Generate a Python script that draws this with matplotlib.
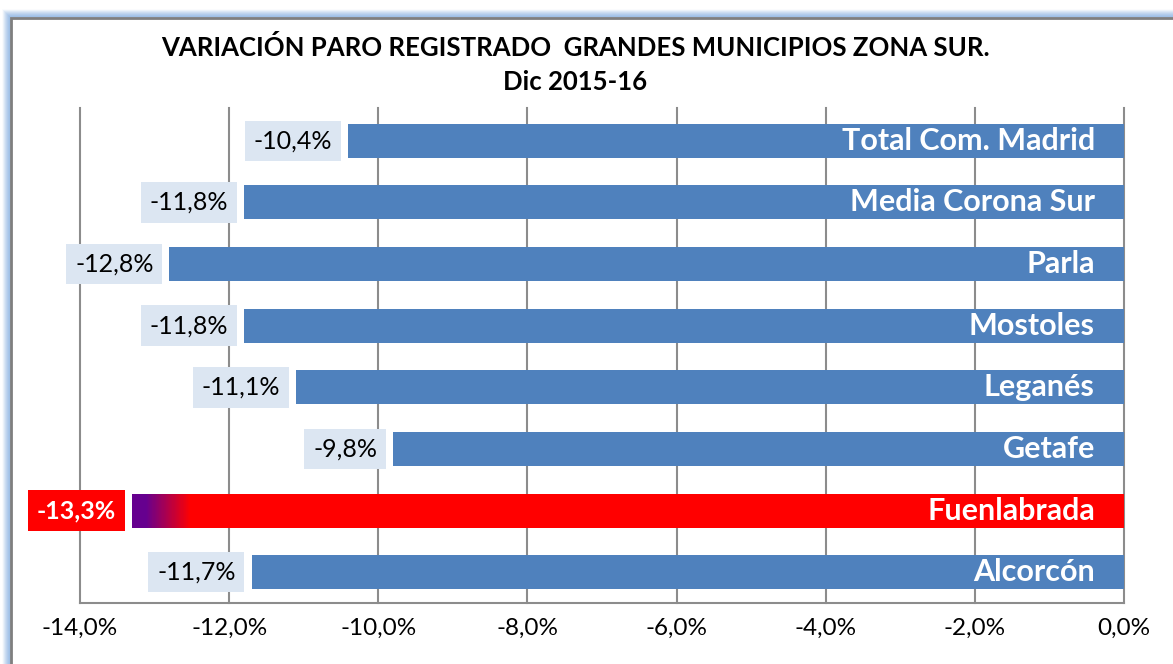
import numpy as np
import matplotlib
matplotlib.use('Agg')
import matplotlib.pyplot as plt
from matplotlib.patches import Rectangle
from matplotlib.colors import LinearSegmentedColormap

plt.rcParams['font.family'] = ['Lato', 'DejaVu Sans']

# datos, de arriba a abajo
municipios = ["Total Com. Madrid", "Media Corona Sur", "Parla", "Mostoles",
              "Leganés", "Getafe", "Fuenlabrada", "Alcorcón"]
variacion = [-10.4, -11.8, -12.8, -11.8, -11.1, -9.8, -13.3, -11.7]
destacado = "Fuenlabrada"
ticks = [-14, -12, -10, -8, -6, -4, -2, 0]

AZUL = '#4F81BD'
ROJO = '#FF0000'
MORADO = '#66008F'
CAJA = '#DCE6F2'
GRIS = '#8C8C8C'

def pct(v):
    return f"{v:.1f}%".replace('.', ',')

fig = plt.figure(figsize=(11.73, 6.64), dpi=100)
W, H = 1173, 664

# marco con halo azul
for i, a in enumerate(np.linspace(0.75, 0.05, 8)):
    off = i + 1
    fig.patches.append(Rectangle(((11 - off) / W, 1 - (18 - off) / H - 2),
                                 2, 2, transform=fig.transFigure,
                                 fill=False, ec='#8DB4E2', lw=1.2, alpha=a))
fig.patches.append(Rectangle((11 / W, 1 - 18 / H - 2), 2, 2,
                             transform=fig.transFigure, fill=False,
                             ec='#7F7F7F', lw=2))

ax = fig.add_axes([80 / W, 1 - 603 / H, (1124 - 80) / W, (603 - 110) / H])

y = np.arange(len(municipios))
h = 0.55
colores = [ROJO if m == destacado else AZUL for m in municipios]
ax.barh(y, variacion, height=h, color=colores, zorder=3)

# degradado morado -> rojo en el extremo de la barra destacada
k = municipios.index(destacado)
v = variacion[k]
deg = LinearSegmentedColormap.from_list(
    'deg', [(0, MORADO), (0.2, MORADO), (0.88, ROJO), (1, ROJO)])
n = 60
paso = 0.9 / n
for j in range(n):
    ax.barh(k, paso * 1.05, left=v + j * paso, height=h,
            color=deg(j / (n - 1)), lw=0, zorder=4)

for i, (m, val) in enumerate(zip(municipios, variacion)):
    ax.annotate(m, (0, i), xytext=(-21, 0), textcoords='offset points',
                ha='right', va='center', color='white', fontsize=22,
                fontweight='bold', zorder=5)
    if m == destacado:
        ax.annotate(pct(val), (val, i), xytext=(-11.5, 0), textcoords='offset points',
                    ha='right', va='center', color='white', fontsize=18,
                    fontweight='bold', zorder=6,
                    bbox=dict(boxstyle='square,pad=0.35', fc=ROJO, ec='none'))
    else:
        ax.annotate(pct(val), (val, i), xytext=(-11.5, 0), textcoords='offset points',
                    ha='right', va='center', color='black', fontsize=18,
                    zorder=6,
                    bbox=dict(boxstyle='square,pad=0.35', fc=CAJA, ec='none'))

ax.set_xlim(-14, 0)
ax.set_ylim(len(municipios) - 0.5, -0.5)
ax.set_xticks(ticks)
ax.set_xticklabels([pct(t) for t in ticks], fontsize=17.5)
ax.set_yticks([])
ax.tick_params(axis='x', length=0, pad=11)
for t in ticks:
    ax.plot([t, t], [len(municipios) - 0.5, -0.535], color=GRIS, lw=1.5,
            zorder=0, clip_on=False)
for s in ['top', 'left', 'right']:
    ax.spines[s].set_visible(False)
ax.spines['bottom'].set_color(GRIS)
ax.spines['bottom'].set_linewidth(1.5)

fig.text(575 / W, 1 - 48 / H, "VARIACIÓN PARO REGISTRADO  GRANDES MUNICIPIOS ZONA SUR.",
         ha='center', va='center', fontsize=18.5, fontweight='bold')
fig.text(575 / W, 1 - 82 / H, "Dic 2015-16", ha='center', va='center',
         fontsize=18.5, fontweight='bold')

fig.savefig('out.png', dpi=100)
